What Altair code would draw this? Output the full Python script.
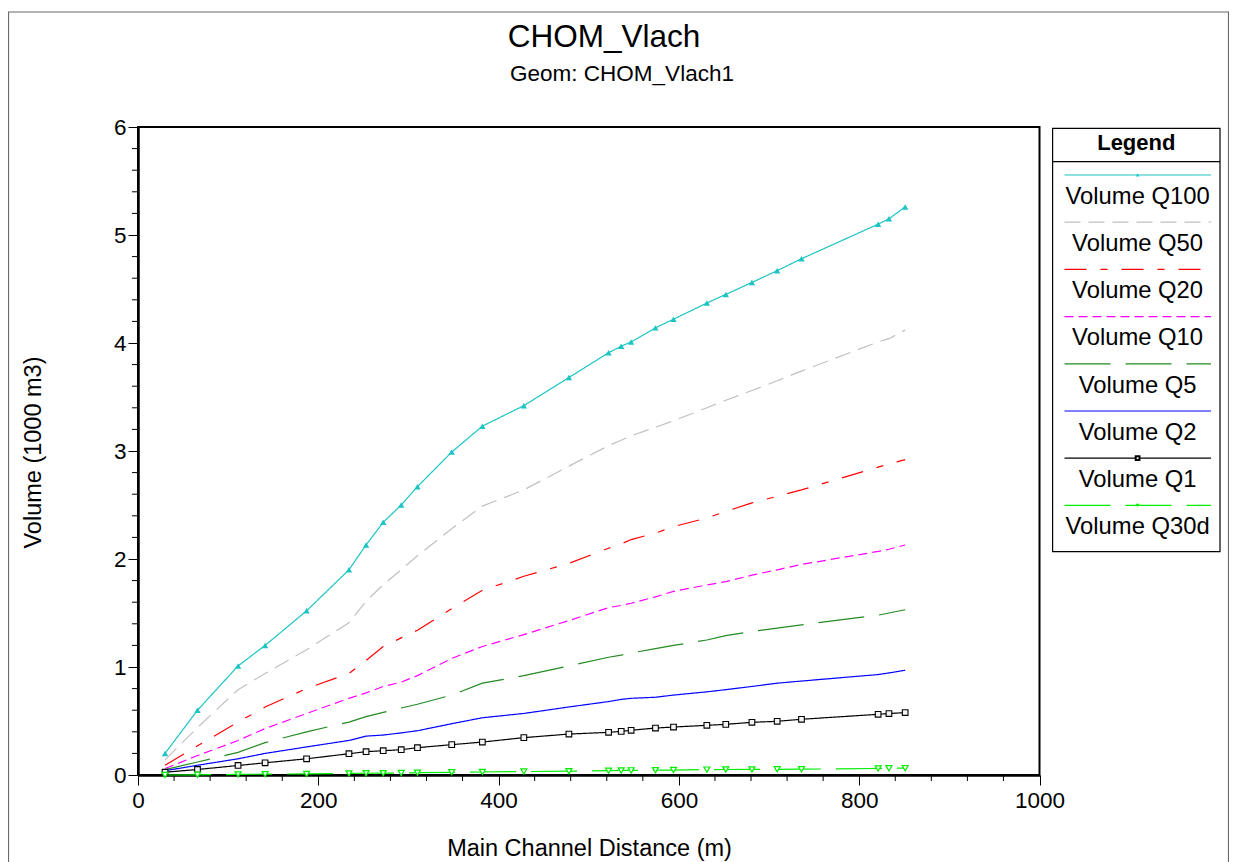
import altair as alt
import pandas as pd

FONT = "Liberation Sans"

series_names = ["Volume Q100", "Volume Q50", "Volume Q20", "Volume Q10",
                "Volume Q5", "Volume Q2", "Volume Q1", "Volume Q30d"]
series_colors = ["#1cc4c4", "#c0c0c0", "#ff0000", "#ff00ff",
                 "#228b22", "#0000ff", "#000000", "#00ee00"]
series_dashes = [[1, 0], [16, 8], [22, 14, 7, 14], [9, 5],
                 [46, 15], [1, 0], [1, 0], [46, 15]]
series_markers = ["triangle-up", "", "", "", "", "", "square", "triangle-down"]

stations = [30, 66, 111, 141, 187, 234, 253, 272, 292, 310, 348, 382, 428, 478,
            522, 536, 547, 574, 594, 631, 652, 681, 709, 736, 821, 833, 851]

q100 = [0.20, 0.60, 1.01, 1.20, 1.52, 1.90, 2.13, 2.34, 2.50, 2.67, 2.99, 3.23, 3.42, 3.68,
        3.91, 3.97, 4.01, 4.14, 4.22, 4.37, 4.45, 4.56, 4.67, 4.78, 5.10, 5.15, 5.26]
q50 = [0.14, 0.44, 0.79, 0.94, 1.16, 1.41, 1.61, 1.76, 1.90, 2.03, 2.28, 2.49, 2.64, 2.86,
       3.05, 3.10, 3.14, 3.22, 3.28, 3.40, 3.47, 3.56, 3.65, 3.74, 4.01, 4.04, 4.12]
q20 = [0.09, 0.27, 0.49, 0.63, 0.80, 0.94, 1.06, 1.19, 1.27, 1.34, 1.54, 1.71, 1.84, 1.96,
       2.10, 2.14, 2.18, 2.24, 2.30, 2.38, 2.44, 2.52, 2.58, 2.64, 2.85, 2.88, 2.92]
q10 = [0.06, 0.18, 0.32, 0.43, 0.57, 0.71, 0.76, 0.82, 0.86, 0.92, 1.08, 1.19, 1.30, 1.43,
       1.55, 1.57, 1.59, 1.65, 1.70, 1.76, 1.79, 1.85, 1.90, 1.95, 2.07, 2.09, 2.13]
q5 = [0.05, 0.12, 0.21, 0.30, 0.40, 0.49, 0.54, 0.58, 0.62, 0.655, 0.74, 0.85, 0.92, 1.01,
      1.09, 1.11, 1.13, 1.17, 1.20, 1.25, 1.29, 1.33, 1.36, 1.39, 1.48, 1.50, 1.53]
q2 = [0.04, 0.09, 0.15, 0.20, 0.26, 0.32, 0.36, 0.37, 0.39, 0.41, 0.475, 0.53, 0.57, 0.63,
      0.68, 0.70, 0.71, 0.72, 0.74, 0.77, 0.79, 0.82, 0.85, 0.87, 0.93, 0.945, 0.97]
q1 = [0.026, 0.051, 0.088, 0.113, 0.150, 0.197, 0.216, 0.225, 0.234, 0.253, 0.281, 0.305,
      0.346, 0.379, 0.395, 0.404, 0.414, 0.435, 0.444, 0.460, 0.469, 0.488, 0.497, 0.516,
      0.562, 0.569, 0.578]
q30d = [0.0, 0.002, 0.005, 0.008, 0.010, 0.015, 0.016, 0.017, 0.018, 0.022, 0.025, 0.028,
        0.032, 0.035, 0.040, 0.042, 0.043, 0.045, 0.046, 0.050, 0.051, 0.052, 0.053, 0.054,
        0.060, 0.062, 0.064]

x_major_ticks = [0, 200, 400, 600, 800, 1000]
x_minor_ticks = [v for v in range(40, 1000, 40) if v % 200 != 0]
y_major_ticks = [0, 1, 2, 3, 4, 5, 6]
y_minor_ticks = [round(i * 0.2, 1) for i in range(31) if i % 5 != 0]

series_values = [q100, q50, q20, q10, q5, q2, q1, q30d]
rows = []
for name, vals in zip(series_names, series_values):
    for d, v in zip(stations, vals):
        rows.append({"series": name, "dist": d, "vol": v})
df = pd.DataFrame(rows)
one = alt.Data(values=[{}])
xminor_df = pd.DataFrame({"dist": x_minor_ticks})
yminor_df = pd.DataFrame({"vol": y_minor_ticks})

color_scale = alt.Scale(domain=series_names, range=series_colors)
dash_scale = alt.Scale(domain=series_names, range=series_dashes)

x_axis = alt.Axis(
    values=x_major_ticks, format="d", tickSize=10,
    title="Main Channel Distance (m)", titleX=451, titleY=73,
    titleAlign="center", titleBaseline="middle",
    labelPadding=4, labelFlush=False, labelOverlap=False, grid=False,
)
y_axis = alt.Axis(
    values=y_major_ticks, format="d", tickSize=10,
    title="Volume (1000 m3)", titleX=-105, titleY=325, titleAngle=270,
    titleAlign="center", titleBaseline="middle",
    labelPadding=2, labelFlush=False, labelOverlap=False, grid=False,
)
x_scale = alt.Scale(domain=[0, 1000], nice=False, zero=False)
y_scale = alt.Scale(domain=[0, 6], nice=False, zero=False)
x_enc = alt.X("dist:Q", scale=x_scale, axis=x_axis)
y_enc = alt.Y("vol:Q", scale=y_scale, axis=y_axis)
c_enc = alt.Color("series:N", scale=color_scale, legend=None)
d_enc = alt.StrokeDash("series:N", scale=dash_scale, legend=None)

layers = []
layers.append(alt.Chart(one).mark_rect(fillOpacity=0, stroke="#6a6a6a", strokeWidth=1.2).encode(
    x=alt.value(-129.5), x2=alt.value(1090.5), y=alt.value(-115), y2=alt.value(760)))
layers.append(alt.Chart(one).mark_text(text="CHOM_Vlach", font=FONT, fontSize=31.5, color="black",
                                       align="center", baseline="middle").encode(
    x=alt.value(466), y=alt.value(-89)))
layers.append(alt.Chart(one).mark_text(text="Geom: CHOM_Vlach1", font=FONT, fontSize=22.5,
                                       color="black", align="center", baseline="middle").encode(
    x=alt.value(484), y=alt.value(-53)))

# minor ticks
layers.append(alt.Chart(xminor_df).mark_rule(color="black", strokeWidth=1).encode(
    x=x_enc, y=alt.value(648), y2=alt.value(654)))
layers.append(alt.Chart(yminor_df).mark_rule(color="black", strokeWidth=1).encode(
    y=y_enc, x=alt.value(-6), x2=alt.value(0)))

layers.append(alt.Chart(df).mark_line(strokeWidth=1.2).encode(
    x=x_enc, y=y_enc, color=c_enc, strokeDash=d_enc, order=alt.Order("dist:Q")))

layers.append(alt.Chart(df).transform_filter(alt.datum.series == "Volume Q100").mark_point(
    shape="triangle-up", filled=True, size=40, opacity=1).encode(x=x_enc, y=y_enc, color=c_enc))
layers.append(alt.Chart(df).transform_filter(alt.datum.series == "Volume Q1").mark_point(
    shape="square", filled=False, fill="#f4f4f4", size=32, strokeWidth=1.1, opacity=1).encode(
    x=x_enc, y=y_enc, color=c_enc))
layers.append(alt.Chart(df).transform_filter(alt.datum.series == "Volume Q30d").mark_point(
    shape="triangle-down", filled=False, fill="white", size=36, strokeWidth=1.2, opacity=1).encode(
    x=x_enc, y=y_enc, color=c_enc))

# legend box
layers.append(alt.Chart(one).mark_rect(fill="white", stroke="black", strokeWidth=1.2).encode(
    x=alt.value(914.6), x2=alt.value(1082), y=alt.value(1.3), y2=alt.value(424.7)))
layers.append(alt.Chart(one).mark_rule(color="black", strokeWidth=1.2).encode(
    x=alt.value(914.6), x2=alt.value(1082), y=alt.value(34.7)))
layers.append(alt.Chart(one).mark_text(text="Legend", font=FONT, fontSize=22, fontWeight="bold",
                                       color="black", align="center", baseline="middle").encode(
    x=alt.value(998.3), y=alt.value(16)))
for i, (name, col, dash, mk) in enumerate(zip(series_names, series_colors, series_dashes, series_markers)):
    ly = 48 + i * 47.2
    layers.append(alt.Chart(one).mark_rule(color=col, strokeWidth=1.2, strokeDash=dash).encode(
        x=alt.value(926.5), x2=alt.value(1073), y=alt.value(ly)))
    layers.append(alt.Chart(one).mark_text(text=name, font=FONT, fontSize=23.8, color="black",
                                           align="center", baseline="middle").encode(
        x=alt.value(999.6), y=alt.value(ly + 21.7)))
    if mk:
        layers.append(alt.Chart(one).mark_point(shape=mk, filled=(mk != "square"), color=col,
                                                fill=(col if mk != "square" else "white"),
                                                size=14, opacity=1).encode(
            x=alt.value(999.6), y=alt.value(ly)))

chart = alt.layer(*layers).properties(
    width=901.5, height=648,
    autosize=alt.AutoSizeParams(type="none"),
    padding={"left": 130, "top": 119, "right": 189.5, "bottom": 87},
    background="white",
).configure_view(stroke="black", strokeWidth=2).configure_axis(
    domainColor="black", domainWidth=2.5, tickColor="black", tickWidth=1,
    labelFont=FONT, labelFontSize=22.5, labelColor="black",
    titleFont=FONT, titleFontSize=23.5, titleFontWeight="normal", titleColor="black",
)

chart.save("out.html", embed_options={"renderer": "svg", "actions": False})
